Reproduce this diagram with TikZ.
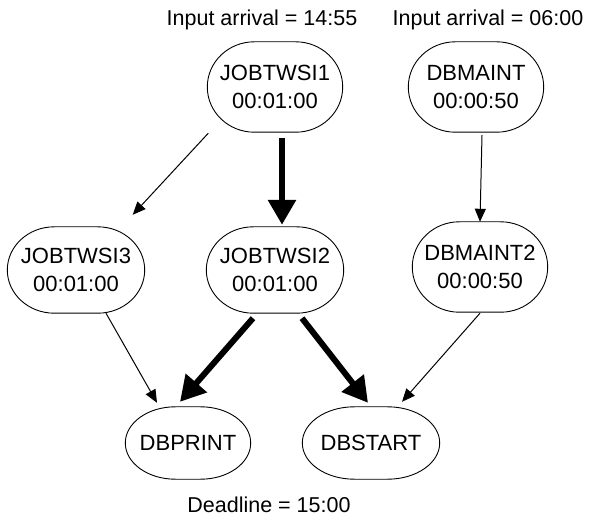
\documentclass[tikz,border=0pt]{standalone}
\usepackage{fontspec}
\setmainfont{Liberation Sans}
\usetikzlibrary{arrows.meta,calc}
\newcommand{\drawoval}[2]{%
  \draw[ovalline] let \p1=(#1.north), \p2=(#1.south), \n1={(\y1-\y2)/2} in
    ([xshift=#2]#1.north west) -- ([xshift=-#2]#1.north east)
    arc[start angle=90, end angle=-90, x radius=#2, y radius=\n1]
    -- ([xshift=#2]#1.south west)
    arc[start angle=270, end angle=90, x radius=#2, y radius=\n1] -- cycle;}
\begin{document}
\begin{tikzpicture}[x=1pt,y=-1pt,
  ovalline/.style={line width=0.9pt},
  job/.style={minimum width=135pt, minimum height=90pt, align=center, inner sep=0pt, font=\fontsize{22}{28}\selectfont},
  endjob/.style={job, minimum height=72pt},
  lbl/.style={font=\fontsize{21.5}{26}\selectfont, inner sep=0pt},
  lightarrow/.style={line width=1pt, -{Triangle[length=13pt,width=11pt]}},
  heavyarrow/.style={line width=6pt, -{Triangle[length=25pt,width=27pt]}}]
\useasboundingbox (0,0) rectangle (589,518);

\node[job] (j1) at (275,87) {JOBTWSI1\\00:01:00};
\node[job] (dbm) at (476,87) {DBMAINT\\00:00:50};
\node[job, minimum width=137pt, minimum height=86pt] (j3) at (76,270) {JOBTWSI3\\00:01:00};
\node[job, minimum width=137pt, minimum height=86pt] (j2) at (275,270) {JOBTWSI2\\00:01:00};
\node[job] (dbm2) at (480,267) {DBMAINT2\\00:00:50};
\node[endjob, minimum width=125pt] (dbp) at (188,443) {DBPRINT};
\node[endjob, minimum width=137pt] (dbs) at (371,443) {DBSTART};

\drawoval{j1}{47pt}
\drawoval{dbm}{47pt}
\drawoval{j3}{47pt}
\drawoval{j2}{47pt}
\drawoval{dbm2}{47pt}
\drawoval{dbp}{50pt}
\drawoval{dbs}{52pt}

\node[lbl] (in1) at (262,20) {Input arrival = 14:55};
\node[lbl] (in2) at (488,20) {Input arrival = 06:00};
\node[lbl] (dl) at (269,505) {Deadline = 15:00};

\draw[lightarrow] ([xshift=1pt,yshift=-1pt]j1.south west) -- ([xshift=-12pt,yshift=12pt]j3.north east);
\draw[heavyarrow] ([xshift=7pt,yshift=-6pt]j1.south) -- ([xshift=7pt,yshift=2pt]j2.north);
\draw[lightarrow] ([xshift=6pt,yshift=-3pt]dbm.south) -- (dbm2.north);
\draw[lightarrow] ([xshift=30pt]j3.south) -- ([xshift=-31pt,yshift=4pt]dbp.north);
\draw[heavyarrow] ([xshift=-22pt,yshift=-5pt]j2.south) -- ([xshift=-8pt,yshift=5pt]dbp.north);
\draw[heavyarrow] ([xshift=27pt,yshift=-5pt]j2.south) -- ([xshift=-3pt,yshift=4pt]dbs.north);
\draw[lightarrow] ([yshift=-1pt]dbm2.south) -- ([xshift=31pt,yshift=5pt]dbs.north);
\end{tikzpicture}
\end{document}
